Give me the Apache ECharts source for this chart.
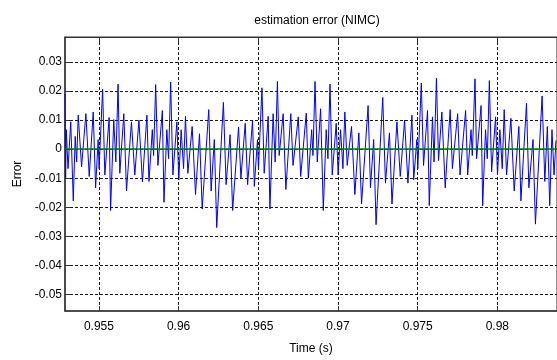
<!DOCTYPE html>
<html><head><meta charset="utf-8">
<script src="https://cdn.jsdelivr.net/npm/echarts@6/dist/echarts.min.js"></script>
<style>html,body{margin:0;padding:0;background:#fff}#c{width:557px;height:360px}</style>
</head><body><div id="c"></div>
<script>
const timeValues = [
0.95287,0.95291,0.95295,0.95306,0.95323,0.95339,0.95351,0.95360,0.95370,0.95391,
0.95418,0.95439,0.95464,0.95479,0.95495,0.95501,0.95523,0.95537,0.95564,0.95573,
0.95593,0.95606,0.95620,0.95631,0.95656,0.95673,0.95704,0.95725,0.95751,0.95773,
0.95801,0.95814,0.95835,0.95843,0.95856,0.95870,0.95898,0.95908,0.95926,0.95937,
0.95950,0.95964,0.95989,0.96001,0.96016,0.96031,0.96043,0.96058,0.96085,0.96106,
0.96131,0.96148,0.96189,0.96204,0.96224,0.96239,0.96281,0.96298,0.96323,0.96339,
0.96376,0.96391,0.96418,0.96433,0.96464,0.96475,0.96495,0.96501,0.96523,0.96537,
0.96562,0.96573,0.96593,0.96606,0.96620,0.96631,0.96656,0.96673,0.96704,0.96718,
0.96751,0.96766,0.96801,0.96814,0.96835,0.96843,0.96856,0.96870,0.96891,0.96908,
0.96926,0.96937,0.96950,0.96964,0.96989,0.97001,0.97016,0.97031,0.97043,0.97058,
0.97085,0.97106,0.97131,0.97148,0.97189,0.97204,0.97224,0.97239,0.97281,0.97298,
0.97323,0.97339,0.97370,0.97391,0.97418,0.97439,0.97464,0.97475,0.97495,0.97501,
0.97523,0.97537,0.97562,0.97573,0.97593,0.97603,0.97618,0.97631,0.97652,0.97673,
0.97704,0.97718,0.97751,0.97766,0.97801,0.97814,0.97835,0.97843,0.97860,0.97870,
0.97898,0.97908,0.97926,0.97937,0.97950,0.97964,0.97989,0.98001,0.98016,0.98031,
0.98043,0.98058,0.98085,0.98106,0.98135,0.98148,0.98183,0.98198,0.98224,0.98239,
0.98281,0.98298,0.98314,0.98329,0.98343,0.98356,0.98368
];
const errorValues = [
0.019,-0.0100,0.0067,-0.0067,0.0094,-0.0178,0.0044,-0.0044,0.0117,-0.0061,
0.0122,-0.0094,0.0128,-0.0133,0.0033,-0.0067,0.0206,-0.0089,0.0109,-0.0211,
0.0102,-0.0044,0.0224,-0.0083,0.0122,-0.0144,0.0094,-0.0089,0.0100,-0.0113,
0.0117,-0.0111,0.0067,-0.0022,0.0222,-0.0056,0.0133,-0.0183,0.0067,-0.0033,
0.0231,-0.0089,0.0094,-0.0106,0.0067,-0.0067,0.0113,-0.0083,0.0078,-0.0156,
0.0053,-0.0206,0.0136,-0.0144,0.0033,-0.0270,0.0161,-0.0122,0.0050,-0.0211,
0.0076,-0.0100,0.0089,-0.0122,0.0100,-0.0128,0.0033,-0.0067,0.0211,-0.0083,
0.0113,-0.0206,0.0122,-0.0044,0.0233,-0.0022,0.0122,-0.0139,0.0122,-0.0056,
0.0111,-0.0094,0.0124,-0.0100,0.0067,-0.0022,0.0233,-0.0044,0.0139,-0.0211,
0.0067,-0.0033,0.0224,-0.0089,0.0089,-0.0089,0.0067,-0.0067,0.0128,-0.0056,
0.0078,-0.0156,0.0056,-0.0189,0.0150,-0.0133,0.0033,-0.0260,0.0178,-0.0117,
0.0056,-0.0189,0.0094,-0.0094,0.0100,-0.0117,0.0117,-0.0106,0.0033,-0.0067,
0.0228,-0.0056,0.0133,-0.0194,0.0111,-0.0044,0.0244,-0.0039,0.0128,-0.0133,
0.0136,-0.0067,0.0122,-0.0089,0.0133,-0.0089,0.0067,-0.0022,0.0242,-0.0033,
0.0150,-0.0195,0.0067,-0.0033,0.0236,-0.0078,0.0111,-0.0089,0.0067,-0.0067,
0.0136,-0.0089,0.0106,-0.0144,0.0078,-0.0178,0.0158,-0.0133,0.0033,-0.0258,
0.0183,-0.0111,0.0078,-0.0194,0.0067,-0.0089,0.0030
];
const xTicks = [0.955, 0.96, 0.965, 0.97, 0.975, 0.98];
const yTicks = [-0.05, -0.04, -0.03, -0.02, -0.01, 0, 0.01, 0.02, 0.03];
const xRange = [0.95287, 0.983745];
const yRange = [-0.0557, 0.0386];
const titleText = 'estimation error (NIMC)';
const xName = 'Time (s)';
const yName = 'Error';

const fmt = v => String(+v.toFixed(4));
const font = 'Liberation Sans, Arial, sans-serif';
const gridLine = {show: true, lineStyle: {color: '#1a1a1a', type: [3, 2], width: 1}};
const chart = echarts.init(document.getElementById('c'), null, {renderer: 'canvas'});
chart.setOption({
  animation: false,
  backgroundColor: '#fff',
  title: {text: titleText, left: 312, top: 10, textAlign: 'center',
    textStyle: {fontFamily: font, fontSize: 12, fontWeight: 'normal', color: '#000'}},
  grid: {left: 65, top: 37, width: 494, height: 280, show: true, borderColor: '#333', borderWidth: 1, backgroundColor: '#fff'},
  xAxis: [{
    type: 'value', min: xRange[0], max: xRange[1], position: 'bottom',
    name: xName, nameLocation: 'middle', nameGap: 32,
    nameTextStyle: {fontFamily: font, fontSize: 12, color: '#000'},
    axisLine: {show: true, onZero: false, lineStyle: {color: '#333', width: 1.5}},
    axisTick: {show: true, inside: true, length: 5, customValues: xTicks, lineStyle: {color: '#333'}},
    axisLabel: {customValues: xTicks, formatter: fmt, fontFamily: font, fontSize: 12, color: '#000', margin: 10},
    splitLine: gridLine
  }, {
    type: 'value', min: xRange[0], max: xRange[1], position: 'top',
    axisLine: {show: true, onZero: false, lineStyle: {color: '#333', width: 1}},
    axisTick: {show: true, inside: true, length: 5, customValues: xTicks, lineStyle: {color: '#333'}},
    axisLabel: {show: false}, splitLine: {show: false}
  }],
  yAxis: [{
    type: 'value', min: yRange[0], max: yRange[1], position: 'left',
    name: yName, nameLocation: 'middle', nameGap: 38, nameRotate: 90,
    nameTextStyle: {fontFamily: font, fontSize: 12, color: '#000'},
    axisLine: {show: true, onZero: false, lineStyle: {color: '#333', width: 1.5}},
    axisTick: {show: true, inside: true, length: 5, customValues: yTicks, lineStyle: {color: '#333'}},
    axisLabel: {customValues: yTicks, formatter: fmt, fontFamily: font, fontSize: 12, color: '#000', margin: 3},
    splitLine: gridLine
  }],
  series: [{
    type: 'line', xAxisIndex: 0, yAxisIndex: 0,
    data: timeValues.map((t, i) => [t, errorValues[i]]),
    showSymbol: false, symbol: 'none',
    lineStyle: {color: '#0000ff', width: 1}, clip: true,
    markLine: {silent: true, symbol: 'none', label: {show: false},
      lineStyle: {color: '#008000', width: 1.5, type: 'solid'},
      data: [{yAxis: 0}]}
  }]
});
</script></body></html>
